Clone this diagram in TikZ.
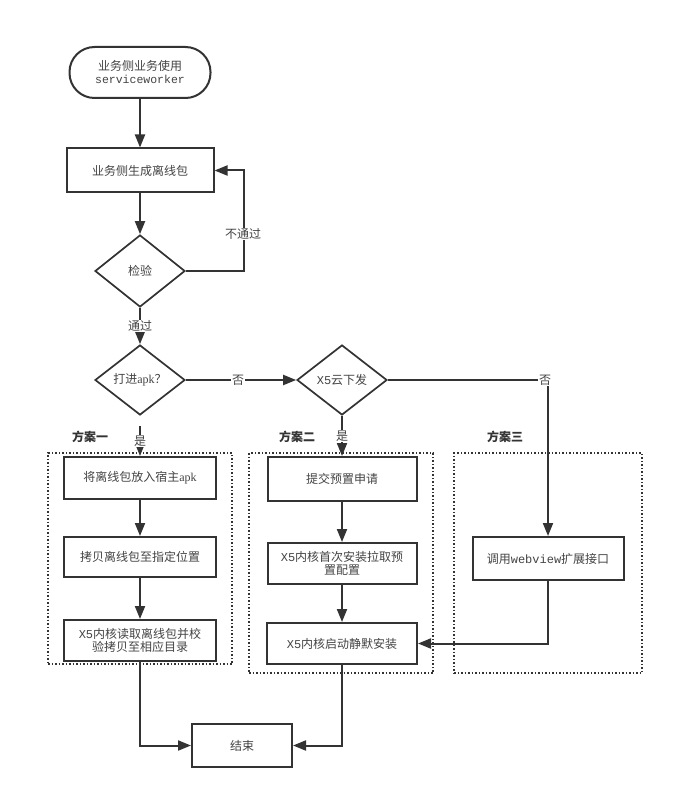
\documentclass[tikz,border=0pt]{standalone}
\usepackage{fontspec}
\setmainfont{Noto Sans CJK SC}
\newfontfamily\monof{Liberation Mono}
\newfontfamily\seriff{Liberation Serif}
\usetikzlibrary{arrows.meta,shapes.geometric}
\definecolor{ink}{HTML}{333333}
\definecolor{txt}{HTML}{444444}
\begin{document}
\begin{tikzpicture}[x=1pt,y=-1pt,
  every node/.style={font=\fontsize{12}{15}\selectfont, text=txt},
  box/.style={draw=ink, line width=2pt, rectangle, inner sep=0pt, align=center, fill=white},
  term/.style={box, rounded corners=25pt},
  dia/.style={draw=ink, line width=1.7pt, diamond, inner sep=0pt, fill=white},
  grp/.style={draw=ink, line width=1.5pt, dotted, rectangle, inner sep=0pt},
  lbl/.style={fill=white, inner sep=1pt},
  glbl/.style={font=\fontsize{12}{15}\selectfont\bfseries, text=ink},
  arr/.style={draw=ink, line width=2pt, -{Triangle[length=13pt,width=10pt]}},
  ln/.style={draw=ink, line width=2pt}
]
\useasboundingbox (0,0) rectangle (674,799);
% groups
\node[grp, minimum width=184pt, minimum height=211pt] (g1) at (140,558.5) {};
\node[grp, minimum width=184pt, minimum height=220pt] (g2) at (341,563) {};
\node[grp, minimum width=188pt, minimum height=220pt] (g3) at (548,563) {};
\node[glbl] (l1) at (90,437) {方案一};
\node[glbl] (l2) at (297,437) {方案二};
\node[glbl] (l3) at (505,437) {方案三};
% nodes
\node[term, minimum width=141pt, minimum height=51pt] (start) at (140,72.5) {业务侧业务使用\\[-2pt]{\monof\fontsize{11.5}{14}\selectfont serviceworker}};
\node[box, minimum width=147pt, minimum height=44pt] (gen) at (140,170.5) {业务侧生成离线包};
\node[dia, minimum width=90pt, minimum height=72pt] (check) at (140,271) {检验};
\node[dia, minimum width=90pt, minimum height=70pt] (apk) at (140,380) {打进{\seriff apk}？};
\node[dia, minimum width=90pt, minimum height=70pt] (x5) at (342,380) {{\monof X5}云下发};
\node[box, minimum width=152pt, minimum height=42pt] (a1) at (140,478) {将离线包放入宿主{\seriff apk}};
\node[box, minimum width=152pt, minimum height=40pt] (a2) at (140,557) {拷贝离线包至指定位置};
\node[box, minimum width=152pt, minimum height=41pt] (a3) at (140,640.5) {{\monof X5}内核读取离线包并校\\[-2pt]验拷贝至相应目录};
\node[box, minimum width=149pt, minimum height=44pt] (b1) at (342,479) {提交预置申请};
\node[box, minimum width=149pt, minimum height=41pt] (b2) at (342,563.5) {{\monof X5}内核首次安装拉取预\\[-2pt]置配置};
\node[box, minimum width=150pt, minimum height=41pt] (b3) at (342,643.5) {{\monof X5}内核启动静默安装};
\node[box, minimum width=151pt, minimum height=43pt] (c1) at (548,558.5) {调用{\monof webview}扩展接口};
\node[box, minimum width=100pt, minimum height=43pt] (end) at (242,745.5) {结束};
% connectors
\draw[arr] (start) -- (gen);
\draw[arr] (gen) -- (check);
\draw[arr] (check.east) -- ++(58,0) coordinate (lp) |- (gen.east);
\node[lbl] (nt) at (243,234) {不通过};
\draw[arr] (check) -- (apk);
\node[lbl] (tg) at (140,326) {通过};
\draw[arr] (apk) -- (x5);
\node[lbl] (no1) at (238,380) {否};
\coordinate (cr) at (548,380);
\draw[arr] (x5.east) -- (cr) -- (c1.north);
\node[lbl] (no2) at (545,380) {否};
\draw[arr] ([yshift=-10pt]apk.south) -- (a1.north);
\node[lbl, inner sep=0.5pt] (y1) at (140,441) {是};
\draw[arr] (x5.south) -- (b1.north);
\node[lbl, inner sep=0.5pt] (y2) at (342,436) {是};
\draw[arr] (a1) -- (a2);
\draw[arr] (a2) -- (a3);
\draw[arr] (b1) -- (b2);
\draw[arr] (b2) -- (b3);
\draw[arr] (c1.south) |- (b3.east);
\draw[arr] (a3.south) |- (end.west);
\draw[arr] (b3.south) |- (end.east);
\end{tikzpicture}
\end{document}
